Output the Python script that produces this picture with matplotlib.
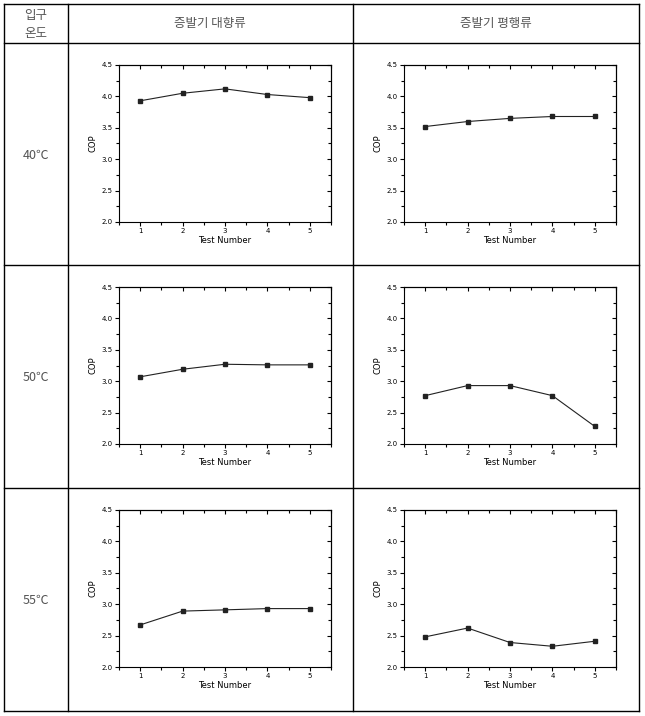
import matplotlib
matplotlib.use("Agg")
import matplotlib.pyplot as plt
from matplotlib.lines import Line2D
from matplotlib.ticker import MultipleLocator, FormatStrFormatter

plt.rcParams['font.family'] = ['DejaVu Sans']

tests = [1, 2, 3, 4, 5]
row_labels = ["40℃", "50℃", "55℃"]
col_labels = ["증발기 대향류", "증발기 평행류"]
corner_label = ["입구", "온도"]

# COP 값 (행: 입구 온도, 열: 대향류 / 평행류)
cop_40_counter = [3.93, 4.05, 4.12, 4.03, 3.98]
cop_40_parallel = [3.52, 3.60, 3.65, 3.68, 3.68]
cop_50_counter = [3.07, 3.19, 3.27, 3.26, 3.26]
cop_50_parallel = [2.77, 2.93, 2.93, 2.77, 2.28]
cop_55_counter = [2.67, 2.89, 2.91, 2.93, 2.93]
cop_55_parallel = [2.48, 2.62, 2.39, 2.33, 2.41]

data = [[cop_40_counter, cop_40_parallel],
        [cop_50_counter, cop_50_parallel],
        [cop_55_counter, cop_55_parallel]]

W, H = 645, 716
fig = plt.figure(figsize=(W / 100, H / 100), dpi=100)

def fx(x):
    return x / W

def fy(y):
    return 1 - y / H

# 표 선
xs = [4, 68, 353, 639]
ys = [4, 43, 265, 488, 711]
for x in xs:
    fig.add_artist(Line2D([fx(x), fx(x)], [fy(ys[0]), fy(ys[-1])], color="black", lw=1.0))
for y in ys:
    fig.add_artist(Line2D([fx(xs[0]), fx(xs[-1])], [fy(y), fy(y)], color="black", lw=1.0))

kfont = ['Noto Sans CJK KR', 'DejaVu Sans']
tcol = "#555555"
fig.text(fx(36), fy(15), corner_label[0], family=kfont, fontsize=9, color=tcol, ha="center", va="center")
fig.text(fx(36), fy(33), corner_label[1], family=kfont, fontsize=9, color=tcol, ha="center", va="center")
fig.text(fx(210), fy(23), col_labels[0], family=kfont, fontsize=9, color=tcol, ha="center", va="center")
fig.text(fx(496), fy(23), col_labels[1], family=kfont, fontsize=9, color=tcol, ha="center", va="center")
row_y = [155, 377, 600]
for lab, y in zip(row_labels, row_y):
    fig.text(fx(36), fy(y), lab, family=kfont, fontsize=9, color=tcol, ha="center", va="center")

ax_left = [119, 404]
ax_top = [65, 287, 510]
ax_w, ax_h = 212, 157

for i in range(3):
    for j in range(2):
        ax = fig.add_axes([fx(ax_left[j]), fy(ax_top[i] + ax_h), ax_w / W, ax_h / H])
        ax.plot(tests, data[i][j], color="#222222", lw=0.8, marker="s", markersize=3)
        ax.set_xlim(0.5, 5.5)
        ax.set_ylim(2.0, 4.5)
        ax.xaxis.set_major_locator(MultipleLocator(1))
        ax.xaxis.set_minor_locator(MultipleLocator(0.5))
        ax.yaxis.set_major_locator(MultipleLocator(0.5))
        ax.yaxis.set_minor_locator(MultipleLocator(0.25))
        ax.yaxis.set_major_formatter(FormatStrFormatter("%.1f"))
        ax.tick_params(which="both", labelsize=5, width=0.8, pad=1.5)
        ax.tick_params(which="major", length=3)
        ax.tick_params(which="minor", length=2)
        ax.tick_params(which="both", direction="out", top=False, right=False)
        ax.set_xlabel("Test Number", fontsize=6, labelpad=1)
        ax.set_ylabel("COP", fontsize=6, labelpad=3)
        for s in ax.spines.values():
            s.set_linewidth(0.8)
        # 위/오른쪽 안쪽 눈금
        ax2 = ax.secondary_xaxis("top")
        ax2.xaxis.set_major_locator(MultipleLocator(1))
        ax2.xaxis.set_minor_locator(MultipleLocator(0.5))
        ax2.tick_params(which="both", direction="in", labeltop=False, width=0.8)
        ax2.tick_params(which="major", length=3)
        ax2.tick_params(which="minor", length=2)
        ay2 = ax.secondary_yaxis("right")
        ay2.yaxis.set_major_locator(MultipleLocator(0.5))
        ay2.yaxis.set_minor_locator(MultipleLocator(0.25))
        ay2.tick_params(which="both", direction="in", labelright=False, width=0.8)
        ay2.tick_params(which="major", length=3)
        ay2.tick_params(which="minor", length=2)

fig.savefig("out.png", dpi=100, facecolor="white")
